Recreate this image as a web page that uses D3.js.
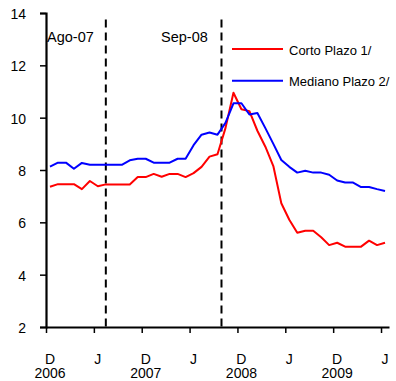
<!DOCTYPE html>
<html>
<head>
<meta charset="utf-8">
<script src="https://cdn.jsdelivr.net/npm/d3@7"></script>
<style>
  html, body { margin: 0; padding: 0; background: #fff; }
  svg { display: block; font-family: "Liberation Sans", Arial, sans-serif; }
</style>
</head>
<body>
<svg id="chart" width="396" height="381"></svg>
<script>
// Monthly periods, Dec 2006 – Jun 2010
const months = [
  "Dic-06","Ene-07","Feb-07","Mar-07","Abr-07","May-07","Jun-07","Jul-07","Ago-07","Sep-07","Oct-07","Nov-07",
  "Dic-07","Ene-08","Feb-08","Mar-08","Abr-08","May-08","Jun-08","Jul-08","Ago-08","Sep-08","Oct-08","Nov-08",
  "Dic-08","Ene-09","Feb-09","Mar-09","Abr-09","May-09","Jun-09","Jul-09","Ago-09","Sep-09","Oct-09","Nov-09",
  "Dic-09","Ene-10","Feb-10","Mar-10","Abr-10","May-10","Jun-10"
];

// Corto Plazo 1/
const cortoPlazo = [
  7.36, 7.46, 7.46, 7.46, 7.27, 7.58, 7.38, 7.45, 7.45, 7.45, 7.45, 7.73,
  7.73, 7.85, 7.74, 7.85, 7.85, 7.73, 7.88, 8.12, 8.51, 8.60, 9.60, 10.95,
  10.32, 10.25, 9.50, 8.89, 8.15, 6.73, 6.10, 5.60, 5.68, 5.68, 5.43, 5.13,
  5.22, 5.07, 5.07, 5.07, 5.30, 5.13, 5.22
];

// Mediano Plazo 2/
const medianoPlazo = [
  8.13, 8.28, 8.28, 8.05, 8.27, 8.20, 8.20, 8.20, 8.20, 8.20, 8.37, 8.43,
  8.43, 8.28, 8.28, 8.28, 8.43, 8.43, 8.95, 9.35, 9.43, 9.35, 9.80, 10.55,
  10.55, 10.12, 10.18, 9.60, 9.00, 8.38, 8.12, 7.90, 7.97, 7.90, 7.90, 7.82,
  7.60, 7.52, 7.52, 7.35, 7.35, 7.27, 7.20
];

// Axis labels: every sixth month, plus the year under each December
const tickEvery = 6;
const monthLabels = ["D", "J", "D", "J", "D", "J", "D", "J"];
const yearLabels  = ["2006", "", "2007", "", "2008", "", "2009", ""];
const yTicks = [2, 4, 6, 8, 10, 12, 14];

// Event markers (position in month units along the category axis)
const eventNames = ["Ago-07", "Sep-08"];
const eventPos   = [7.5, 22];

const seriesNames  = ["Corto Plazo 1/", "Mediano Plazo 2/"];
const seriesColors = ["#ff0000", "#0000ff"];

const svg = d3.select("#chart");
const plotLeft = 46, plotRight = 389, plotTop = 13, plotBottom = 327;

// category boundaries: month i spans [i, i+1], plotted at its centre
const x = d3.scaleLinear().domain([0, months.length]).range([plotLeft, plotRight]);
const y = d3.scaleLinear().domain([2, 14]).range([plotBottom, plotTop]);

// Event dashed lines
svg.append("g").selectAll("line")
  .data(eventPos)
  .join("line")
  .attr("x1", d => x(d)).attr("x2", d => x(d))
  .attr("y1", y(13.75)).attr("y2", y(2))
  .attr("stroke", "#000")
  .attr("stroke-width", 2)
  .attr("stroke-dasharray", "8,5");

// Event labels
const eventLabelX = [47, 161];
svg.append("g").selectAll("text")
  .data(eventNames)
  .join("text")
  .attr("x", (d, i) => eventLabelX[i])
  .attr("y", 41.5)
  .attr("font-size", "14.5px")
  .attr("fill", "#000")
  .text(d => d);

// Series lines
const line = d3.line()
  .x((d, i) => x(i + 0.5))
  .y(d => y(d));

[cortoPlazo, medianoPlazo].forEach((vals, k) => {
  svg.append("path")
    .datum(vals)
    .attr("fill", "none")
    .attr("stroke", seriesColors[k])
    .attr("stroke-width", 2)
    .attr("stroke-linejoin", "round")
    .attr("d", line);
});

// Y axis
const yAxis = d3.axisLeft(y)
  .tickValues(yTicks)
  .tickSize(6)
  .tickPadding(14)
  .tickFormat(d3.format("d"));
const gy = svg.append("g")
  .attr("transform", `translate(${plotLeft},0)`)
  .call(yAxis);
gy.select(".domain").attr("stroke-width", 2.2);
gy.selectAll(".tick line").attr("stroke-width", 1.5);
gy.selectAll(".tick text")
  .attr("font-size", "14px")
  .attr("font-family", "'Liberation Sans', Arial, sans-serif")
  .attr("fill", "#000")
  .attr("dy", "0.40em");

// X axis: ticks on month boundaries, labels at month centres
const tickIdx = d3.range(0, months.length, tickEvery);
const xAxis = d3.axisBottom(x)
  .tickValues(tickIdx)
  .tickSize(6)
  .tickSizeOuter(0)
  .tickFormat("");
const gx = svg.append("g")
  .attr("transform", `translate(0,${plotBottom})`)
  .call(xAxis);
gx.select(".domain").attr("stroke-width", 2.2);
gx.selectAll(".tick line").attr("stroke-width", 1.5);

const xl = svg.append("g")
  .attr("font-size", "14px")
  .attr("text-anchor", "middle")
  .attr("fill", "#000");
xl.selectAll("text.m")
  .data(tickIdx)
  .join("text")
  .attr("class", "m")
  .attr("x", d => x(d + 0.5))
  .attr("y", 363.5)
  .text((d, i) => monthLabels[i]);
xl.selectAll("text.yr")
  .data(tickIdx)
  .join("text")
  .attr("class", "yr")
  .attr("x", d => x(d + 0.5))
  .attr("y", 378)
  .text((d, i) => yearLabels[i]);

// Legend
const legend = svg.append("g");
seriesNames.forEach((name, k) => {
  const ly = 49 + k * 31.7;
  legend.append("line")
    .attr("x1", 232).attr("x2", 283)
    .attr("y1", ly).attr("y2", ly)
    .attr("stroke", seriesColors[k])
    .attr("stroke-width", 2);
  legend.append("text")
    .attr("x", 289)
    .attr("y", ly + 5.5)
    .attr("font-size", "13px")
    .attr("fill", "#000")
    .text(name);
});
</script>
</body>
</html>
